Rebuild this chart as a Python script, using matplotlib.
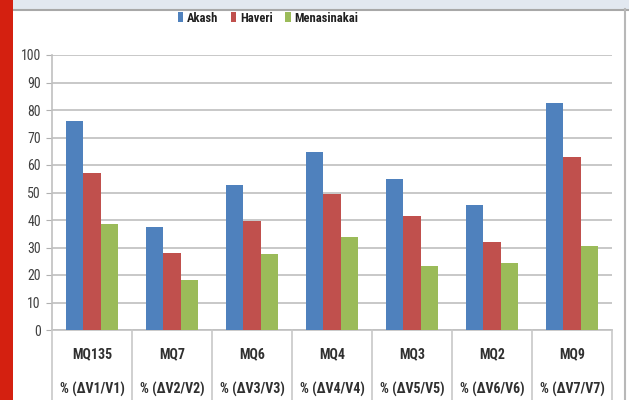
import matplotlib
matplotlib.use("Agg")
import matplotlib.pyplot as plt
from matplotlib import font_manager
from matplotlib.patches import Rectangle
from matplotlib.lines import Line2D
import numpy as np

sensors = ["MQ135", "MQ7", "MQ6", "MQ4", "MQ3", "MQ2", "MQ9"]
ratios = ["% (ΔV1/V1)", "% (ΔV2/V2)", "% (ΔV3/V3)", "% (ΔV4/V4)",
          "% (ΔV5/V5)", "% (ΔV6/V6)", "% (ΔV7/V7)"]
series_names = ["Akash", "Haveri", "Menasinakai"]
akash = [76.1, 37.3, 52.7, 64.6, 54.9, 45.3, 82.7]
haveri = [57.2, 28.1, 39.7, 49.3, 41.5, 32.1, 62.8]
menasinakai = [38.4, 18.2, 27.5, 33.9, 23.4, 24.2, 30.5]
y_ticks = list(range(0, 101, 10))

colors = ["#4f81bd", "#c0504d", "#9bbb59"]

# pick a narrow font if available
family = "DejaVu Sans"
for cand in ["Liberation Sans Narrow", "Arial Narrow", "Roboto Condensed"]:
    try:
        font_manager.findfont(cand, fallback_to_default=False)
        family = cand
        break
    except Exception:
        pass
plt.rcParams["font.family"] = [family, "DejaVu Sans"]

W, H = 629, 400
fig = plt.figure(figsize=(W / 100, H / 100), dpi=100)
fig.patch.set_facecolor("white")

def fx(px):
    return px / W

def fy(py):
    return 1 - py / H

# frame decorations
fig.add_artist(Rectangle((0, fy(9)), 1, 9 / H, transform=fig.transFigure,
                         facecolor="#e2e8f0", edgecolor="none", zorder=0))
fig.add_artist(Line2D([0, 1], [fy(9.5), fy(9.5)], transform=fig.transFigure,
                      color="#a8a8a8", lw=1.5))
fig.add_artist(Rectangle((0, 0), fx(13), 1, transform=fig.transFigure,
                         facecolor="#d42010", edgecolor="none", zorder=5))
fig.add_artist(Line2D([fx(625), fx(625)], [0, fy(9)], transform=fig.transFigure,
                      color="#b8b8b8", lw=1.5))

left, right, top, bottom = 52, 612, 55, 330
ax = fig.add_axes([fx(left), fy(bottom), fx(right - left), (bottom - top) / H])
ax.set_facecolor("white")

x = np.arange(len(sensors))
w = 17.5 / 80
for i, (vals, c) in enumerate(zip([akash, haveri, menasinakai], colors)):
    ax.bar(x + (i - 1) * w, vals, width=w, color=c, edgecolor="none",
           zorder=3, label=series_names[i])

ax.set_xlim(-0.5, len(sensors) - 0.5)
ax.set_ylim(0, 100)
ax.set_yticks(y_ticks)
ax.set_yticklabels([str(v) for v in y_ticks], fontsize=10, color="#404040")
ax.yaxis.grid(True, color="#c8c8c8", lw=1.4, zorder=0)
ax.tick_params(axis="y", length=4, color="#b0b0b0", pad=4)
ax.set_xticks([])
for s in ["top", "right"]:
    ax.spines[s].set_visible(False)
ax.spines["left"].set_color("#c0c0c0")
ax.spines["bottom"].set_color("#c0c0c0")
ax.spines["left"].set_linewidth(1.2)
ax.spines["bottom"].set_linewidth(1.2)

# category table under the axis
for k in range(len(sensors) + 1):
    xp = left + 80 * k
    fig.add_artist(Line2D([fx(xp), fx(xp)], [fy(bottom), 0], transform=fig.transFigure,
                          color="#c8c8c8", lw=1.2))
for k in range(len(sensors)):
    cx = fx(left + 80 * k + 40)
    fig.text(cx, fy(354), sensors[k], ha="center", va="center", fontsize=10,
             color="#303030", fontweight="bold")
    fig.text(cx, fy(389), ratios[k], ha="center", va="center", fontsize=10,
             color="#303030", fontweight="bold")

leg = fig.legend(loc="center", bbox_to_anchor=(fx(268), fy(18)), ncol=3, frameon=False,
                 fontsize=9, handlelength=0.45, handleheight=0.9, handletextpad=0.3,
                 columnspacing=1.0, borderpad=0)
for t in leg.get_texts():
    t.set_fontweight("bold")
    t.set_color("#202020")

fig.savefig("out.png", dpi=100, facecolor="white")
